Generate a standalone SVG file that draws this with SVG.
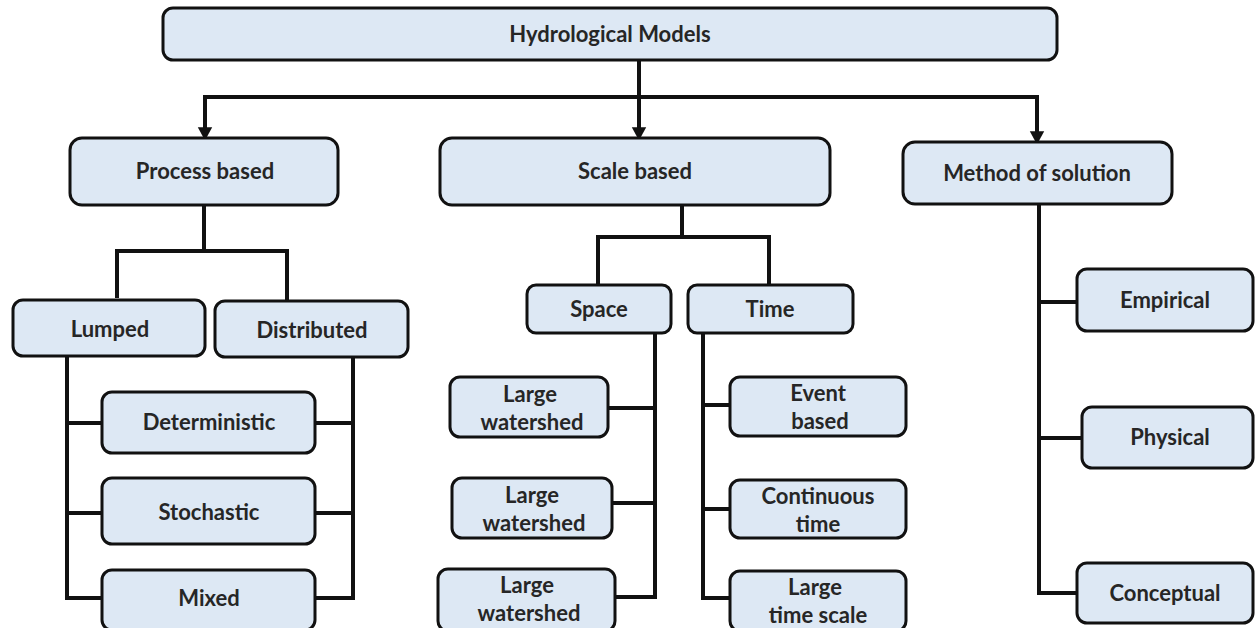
<svg xmlns="http://www.w3.org/2000/svg" width="1257" height="628" viewBox="0 0 1257 628">
<style>
.box{fill:#dde8f4;stroke:#111;stroke-width:3}
.t{font-family:Lato,"Open Sans",sans-serif;font-weight:bold;font-size:22px;fill:#262626;text-anchor:middle}
.c{fill:none;stroke:#111;stroke-width:4;stroke-linejoin:miter}
</style>
<defs>
<marker id="ah" markerWidth="4" markerHeight="4" refX="2.2" refY="2" orient="auto" markerUnits="strokeWidth"><path d="M0,0.2 L3.3,2 L0,3.8 Z" fill="#111"/></marker>
</defs>
<rect width="1257" height="628" fill="#fff"/>
<g id="connectors">
<path class="c" d="M639,60 V136" marker-end="url(#ah)"/>
<path class="c" d="M205,97 H1037"/>
<path class="c" d="M205,95 V136" marker-end="url(#ah)"/>
<path class="c" d="M1037,95 V140" marker-end="url(#ah)"/>
<path class="c" d="M204,205 V251 M117,298 V251 H287 V300"/>
<path class="c" d="M67,356 V598 H102 M67,423 H102 M67,513 H102"/>
<path class="c" d="M353,357 V598 H315 M353,423 H315 M353,513 H315"/>
<path class="c" d="M682,205 V237 M598,285 V237 H769 V285"/>
<path class="c" d="M655,333 V597 H615 M655,408 H608 M655,503 H612"/>
<path class="c" d="M703,333 V598 H730 M703,405 H730 M703,509 H730"/>
<path class="c" d="M1039,204 V593 H1077 M1039,302 H1077 M1039,438 H1082"/>
</g>
<g id="root"><rect class="box" x="163" y="8" width="894" height="52" rx="10"/><text class="t" x="610" y="42">Hydrological Models</text></g>
<g id="process"><rect class="box" x="70" y="138" width="268" height="67" rx="12"/><text class="t" x="205" y="179">Process based</text></g>
<g id="scale"><rect class="box" x="440" y="138" width="390" height="67" rx="12"/><text class="t" x="635" y="179">Scale based</text></g>
<g id="method"><rect class="box" x="903" y="142" width="269" height="62" rx="12"/><text class="t" x="1037" y="181">Method of solution</text></g>
<g id="lumped"><rect class="box" x="13" y="300" width="192" height="56" rx="10"/><text class="t" x="110" y="337">Lumped</text></g>
<g id="distributed"><rect class="box" x="215" y="301" width="193" height="56" rx="10"/><text class="t" x="312" y="338">Distributed</text></g>
<g id="deterministic"><rect class="box" x="102" y="392" width="213" height="61" rx="10"/><text class="t" x="209" y="430">Deterministic</text></g>
<g id="stochastic"><rect class="box" x="102" y="478" width="213" height="66" rx="10"/><text class="t" x="209" y="520">Stochastic</text></g>
<g id="mixed"><rect class="box" x="102" y="570" width="213" height="60" rx="10"/><text class="t" x="209" y="606">Mixed</text></g>
<g id="space"><rect class="box" x="527" y="285" width="144" height="48" rx="9"/><text class="t" x="599" y="317">Space</text></g>
<g id="time"><rect class="box" x="688" y="285" width="165" height="48" rx="9"/><text class="t" x="770" y="317">Time</text></g>
<g id="lw1"><rect class="box" x="450" y="377" width="158" height="60" rx="10"/><text class="t" x="530" y="402">Large</text><text class="t" x="532" y="430">watershed</text></g>
<g id="lw2"><rect class="box" x="452" y="478" width="160" height="60" rx="10"/><text class="t" x="532" y="503">Large</text><text class="t" x="534" y="531">watershed</text></g>
<g id="lw3"><rect class="box" x="438" y="569" width="177" height="62" rx="10"/><text class="t" x="527" y="593">Large</text><text class="t" x="529" y="621">watershed</text></g>
<g id="event"><rect class="box" x="730" y="377" width="176" height="59" rx="10"/><text class="t" x="818" y="401">Event</text><text class="t" x="820" y="429">based</text></g>
<g id="continuous"><rect class="box" x="730" y="480" width="176" height="58" rx="10"/><text class="t" x="818" y="504">Continuous</text><text class="t" x="818" y="532">time</text></g>
<g id="largetime"><rect class="box" x="730" y="571" width="176" height="60" rx="10"/><text class="t" x="815" y="595">Large</text><text class="t" x="818" y="623">time scale</text></g>
<g id="empirical"><rect class="box" x="1077" y="269" width="176" height="62" rx="10"/><text class="t" x="1165" y="308">Empirical</text></g>
<g id="physical"><rect class="box" x="1082" y="407" width="171" height="61" rx="10"/><text class="t" x="1170" y="445">Physical</text></g>
<g id="conceptual"><rect class="box" x="1077" y="563" width="176" height="60" rx="10"/><text class="t" x="1165" y="601">Conceptual</text></g>
</svg>
